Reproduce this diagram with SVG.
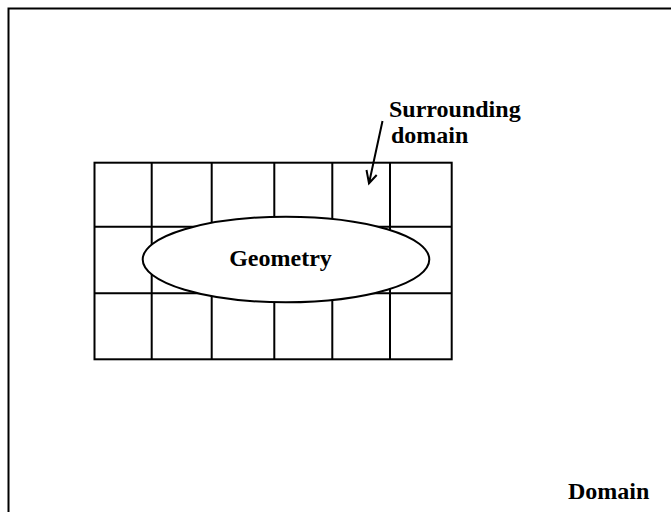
<svg xmlns="http://www.w3.org/2000/svg" width="671" height="512" viewBox="0 0 671 512">
<style>
.ln{stroke:#000;stroke-width:2;fill:none}
.t{font-family:"Liberation Serif","Times New Roman",serif;font-weight:bold;font-size:24px;fill:#000}
</style>
<rect x="0" y="0" width="671" height="512" fill="#fff"/>
<g id="domain">
<path class="ln" d="M8.5,520 V8.5 H680"/>
<text class="t" x="568" y="499">Domain</text>
</g>
<g id="grid">
<rect class="ln" x="94.5" y="162.7" width="357.2" height="196.6"/>
<path class="ln" d="M94.5,226.7 H451.7 M94.5,293.3 H451.7 M151.7,162.7 V359.3 M211.7,162.7 V359.3 M274.3,162.7 V359.3 M332.3,162.7 V359.3 M390,162.7 V359.3"/>
</g>
<g id="geometry">
<ellipse cx="286" cy="259.5" rx="143.3" ry="42.8" fill="#fff" stroke="#000" stroke-width="2"/>
<text class="t" x="280.5" y="266" text-anchor="middle">Geometry</text>
</g>
<g id="surrounding-label">
<text class="t" x="389" y="117">Surrounding</text>
<text class="t" x="391" y="143">domain</text>
</g>
<g id="connectors">
<path class="ln" d="M382.5,121 L369,183.3 M366.5,170 L369,183.3 L376.7,175"/>
</g>
</svg>
